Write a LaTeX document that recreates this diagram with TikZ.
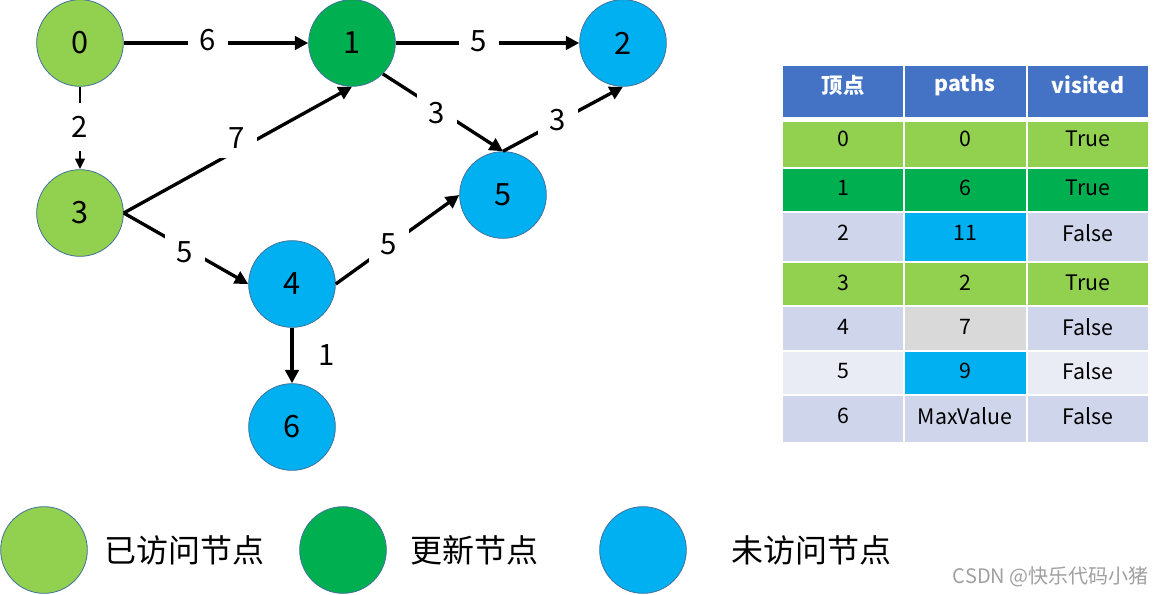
\documentclass[tikz,border=0pt]{standalone}
\usepackage{fontspec}
\setmainfont{Noto Sans CJK SC}
\usetikzlibrary{arrows.meta}
\definecolor{lgreen}{HTML}{92D050}
\definecolor{dgreen}{HTML}{00B050}
\definecolor{lblue}{HTML}{00B0F0}
\definecolor{rim}{HTML}{41719C}
\definecolor{hdr}{HTML}{4472C4}
\definecolor{rowa}{HTML}{CFD5EA}
\definecolor{rowb}{HTML}{E9EBF5}
\definecolor{cgray}{HTML}{D9D9D9}
\definecolor{wm}{HTML}{A0A0A0}
\begin{document}
\begin{tikzpicture}[x=0.75pt,y=-0.75pt,
  vtx/.style={circle,draw=rim,line width=0.6pt,minimum size=65pt,inner sep=0pt,
    font=\fontsize{23}{27}\selectfont},
  edge/.style={line width=2.5pt,-{Triangle[length=10pt,width=10pt]}},
  thinedge/.style={line width=2pt,-{Triangle[length=8pt,width=7pt]}},
  wlabel/.style={fill=white,inner xsep=9pt,inner ysep=7pt,font=\fontsize{22}{26}\selectfont},
  plabel/.style={inner sep=0pt,font=\fontsize{22}{26}\selectfont},
  cellbox/.style={draw=white,line width=1.2pt},
  celltext/.style={inner sep=0pt,font=\fontsize{16}{19}\selectfont},
  headtext/.style={inner sep=0pt,text=white,font=\bfseries\fontsize{16}{19}\selectfont},
  legtext/.style={inner sep=0pt,anchor=west,font=\fontsize{24}{28}\selectfont}]
\useasboundingbox (0,0) rectangle (1153,594);

% graph nodes
\node[vtx,fill=lgreen] (n0) at (80,43) {0};
\node[vtx,fill=dgreen] (n1) at (352,43) {1};
\node[vtx,fill=lblue] (n2) at (623,43) {2};
\node[vtx,fill=lgreen] (n3) at (80,213) {3};
\node[vtx,fill=lblue] (n4) at (292,284) {4};
\node[vtx,fill=lblue] (n5) at (503,195) {5};
\node[vtx,fill=lblue] (n6) at (292,427) {6};

% edges
\draw[edge] (n0.east) -- (n1.west);
\draw[edge] (n1.east) -- (n2.west);
\draw[thinedge] (n0.south) -- (n3.north);
\draw[edge] (n3.east) -- (n1.south);
\draw[edge] (n1.-45) -- (n5.north);
\draw[edge] (n5.north) -- (n2.south);
\draw[edge] (n3.east) -- (n4.west);
\draw[edge] (n4.east) -- (n5.west);
\draw[edge] (n4.south) -- (n6.north);

% edge labels
\node[wlabel] (l01) at (208,40) {6};
\node[wlabel] (l12) at (479,41) {5};
\node[wlabel,inner ysep=10pt] (l03) at (80,127) {2};
\node[wlabel] (l31) at (237,138) {7};
\node[wlabel] (l15) at (437,113) {3};
\node[wlabel] (l52) at (558,120) {3};
\node[wlabel] (l34) at (185,252) {5};
\node[wlabel] (l45) at (389,244) {5};
\node[plabel] (l46) at (327,355) {1};

% table cells
\fill[white] (782,117) rectangle (1149,121);
\foreach \xa/\xb in {782/904,904/1027,1027/1149}{
  \draw[cellbox,fill=hdr] (\xa,65) rectangle (\xb,118);
}
% row 0
\draw[cellbox,fill=lgreen] (782,121) rectangle (904,168);
\draw[cellbox,fill=lgreen] (904,121) rectangle (1027,168);
\draw[cellbox,fill=lgreen] (1027,121) rectangle (1149,168);
% row 1
\draw[cellbox,fill=dgreen] (782,168) rectangle (904,212);
\draw[cellbox,fill=dgreen] (904,168) rectangle (1027,212);
\draw[cellbox,fill=dgreen] (1027,168) rectangle (1149,212);
% row 2
\draw[cellbox,fill=rowa] (782,212) rectangle (904,262);
\draw[cellbox,fill=lblue] (904,212) rectangle (1027,262);
\draw[cellbox,fill=rowa] (1027,212) rectangle (1149,262);
% row 3
\draw[cellbox,fill=lgreen] (782,262) rectangle (904,306);
\draw[cellbox,fill=lgreen] (904,262) rectangle (1027,306);
\draw[cellbox,fill=lgreen] (1027,262) rectangle (1149,306);
% row 4
\draw[cellbox,fill=rowa] (782,306) rectangle (904,351);
\draw[cellbox,fill=cgray] (904,306) rectangle (1027,351);
\draw[cellbox,fill=rowa] (1027,306) rectangle (1149,351);
% row 5
\draw[cellbox,fill=rowb] (782,351) rectangle (904,395);
\draw[cellbox,fill=lblue] (904,351) rectangle (1027,395);
\draw[cellbox,fill=rowb] (1027,351) rectangle (1149,395);
% row 6
\draw[cellbox,fill=rowa] (782,395) rectangle (904,443);
\draw[cellbox,fill=rowa] (904,395) rectangle (1027,443);
\draw[cellbox,fill=rowa] (1027,395) rectangle (1149,443);

% table text
\node[headtext] (h1) at (843,85) {顶点};
\node[headtext] (h2) at (965,85) {paths};
\node[headtext] (h3) at (1088,85) {visited};
\node[celltext] (a0) at (843,139) {0};
\node[celltext] (b0) at (965,139) {0};
\node[celltext] (c0) at (1088,139) {True};
\node[celltext] (a1) at (843,188) {1};
\node[celltext] (b1) at (965,188) {6};
\node[celltext] (c1) at (1088,188) {True};
\node[celltext] (a2) at (843,233) {2};
\node[celltext] (b2) at (965,233) {11};
\node[celltext] (c2) at (1088,233) {False};
\node[celltext] (a3) at (843,283) {3};
\node[celltext] (b3) at (965,283) {2};
\node[celltext] (c3) at (1088,283) {True};
\node[celltext] (a4) at (843,327) {4};
\node[celltext] (b4) at (965,327) {7};
\node[celltext] (c4) at (1088,327) {False};
\node[celltext] (a5) at (843,371) {5};
\node[celltext] (b5) at (965,371) {9};
\node[celltext] (c5) at (1088,371) {False};
\node[celltext] (a6) at (843,416) {6};
\node[celltext] (b6) at (965,416) {MaxValue};
\node[celltext] (c6) at (1088,416) {False};

% legend
\node[vtx,fill=lgreen] (g1) at (44,550) {};
\node[legtext] (t1) at (104,550) {已访问节点};
\node[vtx,fill=dgreen] (g2) at (343,550) {};
\node[legtext] (t2) at (410,550) {更新节点};
\node[vtx,fill=lblue] (g3) at (643,550) {};
\node[legtext] (t3) at (731,550) {未访问节点};

% watermark
\node[inner sep=0pt,anchor=east,text=wm,font=\fontsize{15}{17}\selectfont] (wmk) at (1149,577) {CSDN @快乐代码小猪};
\end{tikzpicture}
\end{document}
